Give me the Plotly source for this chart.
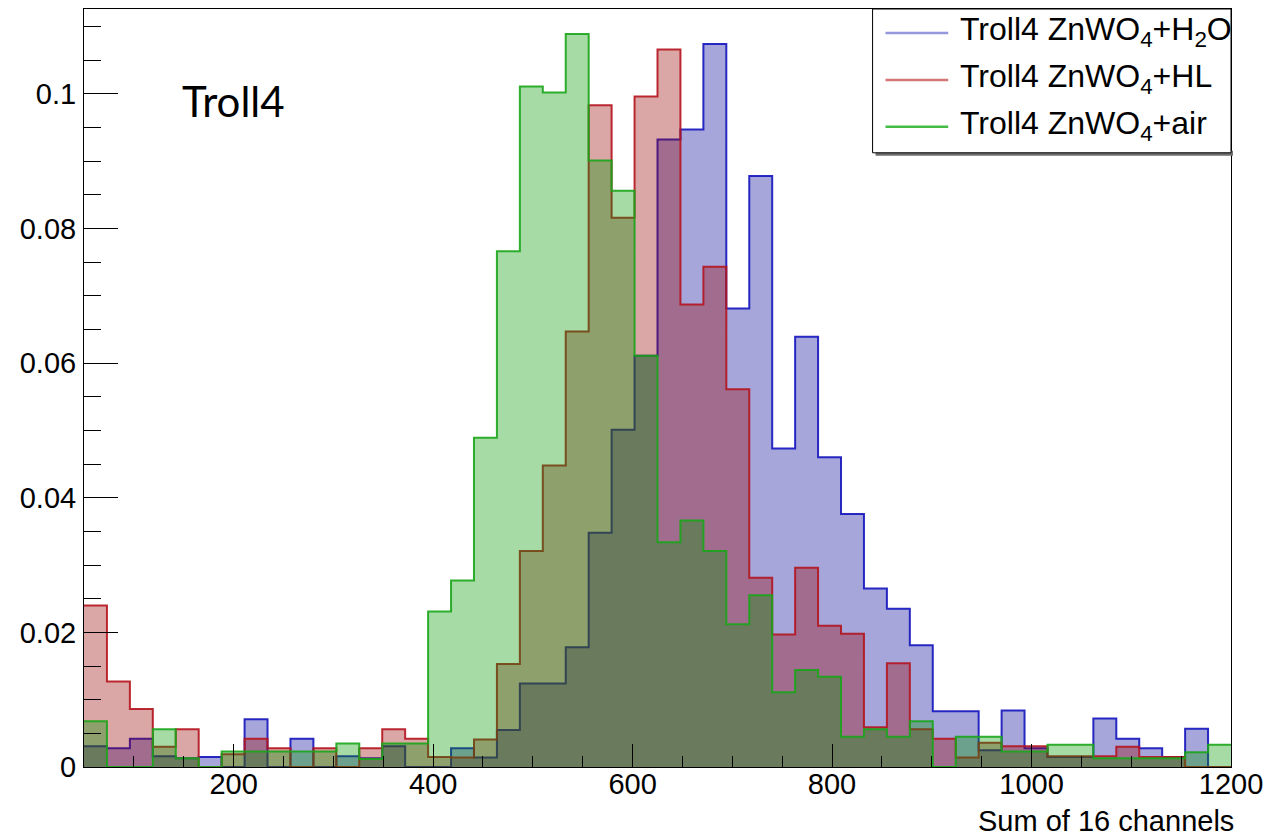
import numpy as np
import plotly.graph_objects as go

# ---------------- data ----------------
BIN_LOW, BIN_HIGH, N_BINS = 50, 1200, 50

series_names = ["Troll4 ZnWO<sub>4</sub>+H<sub>2</sub>O",
                "Troll4 ZnWO<sub>4</sub>+HL",
                "Troll4 ZnWO<sub>4</sub>+air"]

h2o = [0.0031, 0.0028, 0.0042, 0.0016, 0.0013, 0.0015, 0.0, 0.0071, 0.0, 0.0042,
       0.0, 0.0016, 0.0013, 0.0031, 0.0, 0.0, 0.0028, 0.0014, 0.0055, 0.0124,
       0.0124, 0.0178, 0.0348, 0.0501, 0.0611, 0.0932, 0.0947, 0.1074, 0.0681, 0.0878,
       0.0473, 0.0639, 0.0460, 0.0376, 0.0265, 0.0235, 0.0181, 0.0083, 0.0083, 0.0025,
       0.0084, 0.0028, 0.0015, 0.0015, 0.0072, 0.0042, 0.0028, 0.0015, 0.0057, 0.0]

hl = [0.0240, 0.0127, 0.0086, 0.0030, 0.0056, 0.0, 0.0019, 0.0042, 0.0028, 0.0,
      0.0028, 0.0, 0.0028, 0.0056, 0.0042, 0.0015, 0.0014, 0.0041, 0.0153, 0.0321,
      0.0448, 0.0647, 0.0983, 0.0816, 0.0996, 0.1066, 0.0687, 0.0743, 0.0561, 0.0281,
      0.0197, 0.0296, 0.0210, 0.0198, 0.0059, 0.0154, 0.0056, 0.0042, 0.0014, 0.0036,
      0.0031, 0.0031, 0.0016, 0.0016, 0.0016, 0.0030, 0.0015, 0.0015, 0.0, 0.0]

air = [0.0068, 0.0, 0.0, 0.0056, 0.0013, 0.0, 0.0023, 0.0023, 0.0023, 0.0023,
       0.0023, 0.0035, 0.0012, 0.0035, 0.0035, 0.0231, 0.0277, 0.0489, 0.0766, 0.1011,
       0.1002, 0.1089, 0.0901, 0.0856, 0.0611, 0.0334, 0.0366, 0.0321, 0.0212, 0.0255,
       0.0111, 0.0144, 0.0134, 0.0045, 0.0056, 0.0045, 0.0068, 0.0, 0.0045, 0.0045,
       0.0023, 0.0023, 0.0033, 0.0033, 0.0013, 0.0013, 0.0013, 0.0013, 0.0022, 0.0033]

x_title = "Sum of 16 channels"
label_text = "Troll4"

# ---------------- styles ----------------
fill_cols = ["rgba(0,0,153,0.35)", "rgba(153,0,0,0.35)", "rgba(0,153,0,0.35)"]
line_cols = ["rgba(20,20,190,0.9)", "rgba(180,20,30,0.9)", "rgba(25,165,25,0.9)"]
legend_line_cols = ["rgb(150,152,222)", "rgb(212,118,118)", "rgb(70,188,70)"]

FONT = "Liberation Sans, Arial, Helvetica, sans-serif"
W, H = 1271, 836
L, R, T, B = 84, 1236, 8, 767   # plot frame in pixels


def px2x(px):
    return (px - L) / (R - L)


def py2y(py):
    return (B - py) / (B - T)


edges = np.linspace(BIN_LOW, BIN_HIGH, N_BINS + 1)

fig = go.Figure()
for vals, fc, lc in zip([h2o, hl, air], fill_cols, line_cols):
    xs = list(edges[:-1]) + [edges[-1]]
    ys = list(vals) + [vals[-1]]
    fig.add_trace(go.Scatter(
        x=xs, y=ys, mode="lines",
        line=dict(shape="hv", color=lc, width=2),
        fill="tozeroy", fillcolor=fc,
        showlegend=False, hoverinfo="skip"))

axis_common = dict(
    showline=True, linecolor="black", linewidth=1, mirror=True,
    ticks="inside", tickcolor="black", tickwidth=1,
    showgrid=False, zeroline=False,
    tickfont=dict(family=FONT, size=29, color="black"),
)

fig.update_xaxes(range=[BIN_LOW, BIN_HIGH], tick0=0, dtick=200, ticklen=23,
                 minor=dict(tick0=0, dtick=50, ticklen=11, ticks="inside",
                            tickcolor="black", tickwidth=1),
                 ticklabelstandoff=-9,
                 **axis_common)
fig.update_yaxes(range=[0, 0.1126], tick0=0, dtick=0.02, ticklen=34,
                 minor=dict(tick0=0, dtick=0.005, ticklen=17, ticks="inside",
                            tickcolor="black", tickwidth=1),
                 ticklabelstandoff=1,
                 **axis_common)

shapes = []
annotations = []

# legend box with shadow
shapes.append(dict(type="rect", xref="paper", yref="paper",
                   x0=px2x(879), x1=px2x(1238), y0=py2y(155), y1=py2y(150),
                   fillcolor="rgb(110,110,110)", line=dict(width=0), layer="above"))
shapes.append(dict(type="rect", xref="paper", yref="paper",
                   x0=px2x(876), x1=1.0, y0=py2y(152), y1=1.0,
                   fillcolor="white", line=dict(color="black", width=1), layer="above"))

rows = [32, 79, 126]
for name, col, ry in zip(series_names, legend_line_cols, rows):
    shapes.append(dict(type="line", xref="paper", yref="paper",
                       x0=px2x(889), x1=px2x(952), y0=py2y(ry), y1=py2y(ry),
                       line=dict(color=col, width=2.5), layer="above"))
    annotations.append(dict(xref="paper", yref="paper", x=px2x(962), y=py2y(ry - 1),
                            xanchor="left", yanchor="middle", showarrow=False,
                            text=name, font=dict(family=FONT, size=32, color="black")))

annotations.append(dict(xref="paper", yref="paper", x=px2x(180), y=py2y(100),
                        xanchor="left", yanchor="middle", showarrow=False,
                        text=label_text, font=dict(family="Lato, sans-serif", size=42, color="black")))
annotations.append(dict(xref="paper", yref="paper", x=1.0, y=py2y(821), xshift=5,
                        xanchor="right", yanchor="middle", showarrow=False,
                        text=x_title, font=dict(family=FONT, size=29, color="black")))

fig.update_layout(
    width=W, height=H,
    margin=dict(l=L, r=W - R, t=T, b=H - B, pad=0),
    paper_bgcolor="white", plot_bgcolor="white",
    shapes=shapes, annotations=annotations,
    showlegend=False,
)

fig.write_html("out.html")
